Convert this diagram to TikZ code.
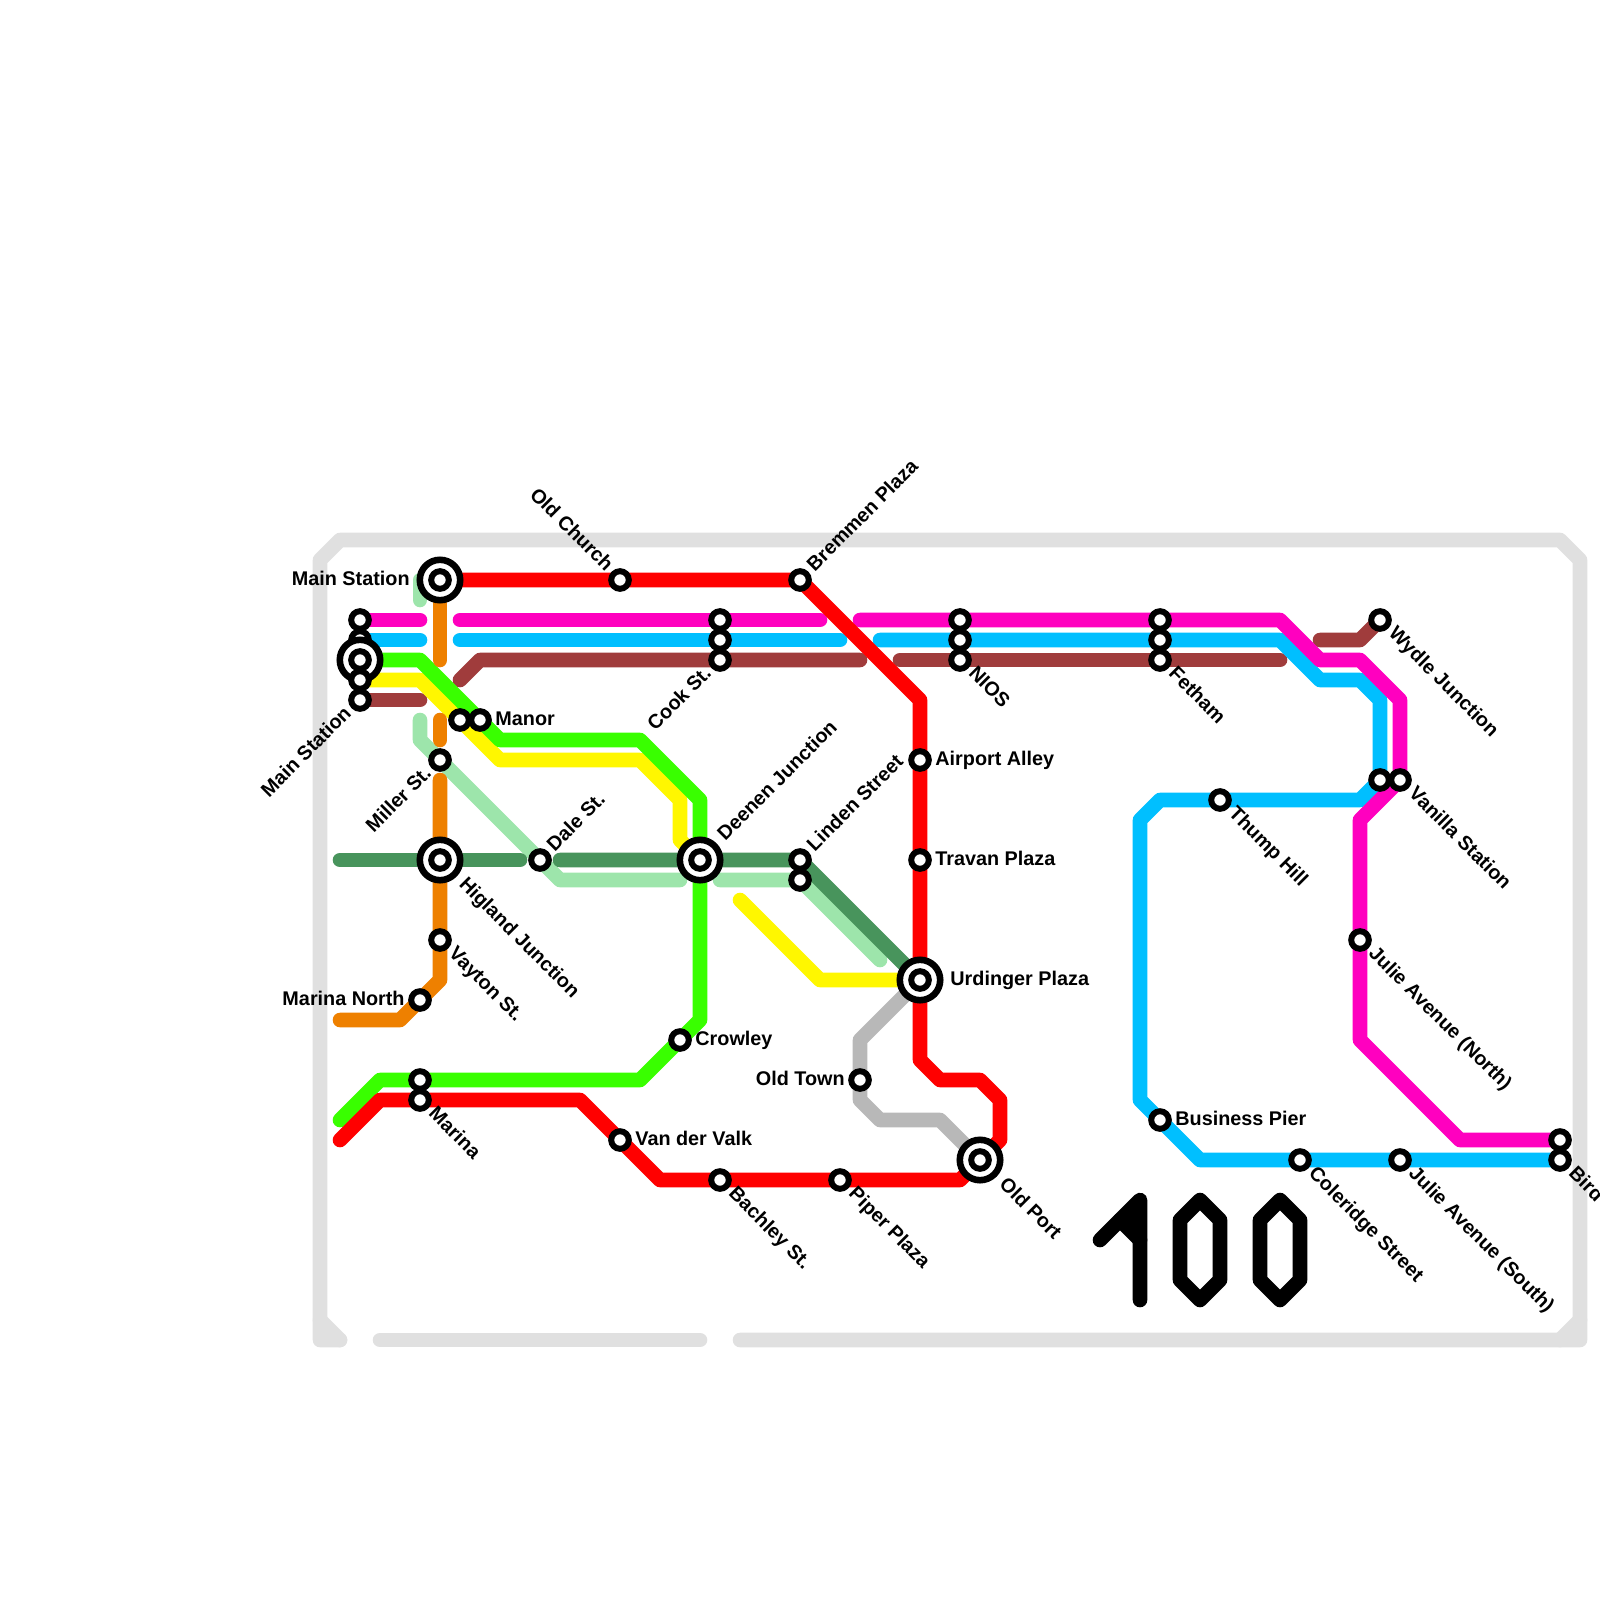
\documentclass[tikz,border=0pt]{standalone}
\usepackage{fontspec}
\setmainfont{Liberation Sans}
\usetikzlibrary{backgrounds}
\definecolor{frameGrey}{RGB}{224,224,224}
\definecolor{lineRed}{RGB}{255,0,0}
\definecolor{lineMagenta}{RGB}{255,0,191}
\definecolor{lineCyan}{RGB}{0,191,255}
\definecolor{lineBrown}{RGB}{160,60,60}
\definecolor{lineGreen}{RGB}{57,255,0}
\definecolor{lineYellow}{RGB}{255,247,0}
\definecolor{lineOrange}{RGB}{238,128,0}
\definecolor{linePale}{RGB}{157,229,171}
\definecolor{lineForest}{RGB}{72,148,92}
\definecolor{lineGrey}{RGB}{184,184,184}

\begin{document}
\begin{tikzpicture}[
  x=0.5pt, y=-0.5pt,
  track/.style={line width=7.3pt, line cap=round, line join=round},
  stn/.style={circle, draw=black, fill=white, line width=3pt, minimum size=8.8pt, inner sep=0pt, outer sep=0pt},
  hub/.style={circle, draw=black, fill=white, line width=3.3pt, minimum size=20.2pt, inner sep=0pt, outer sep=0pt},
  lbl/.style={font=\fontsize{9.9}{11}\selectfont\bfseries, inner sep=0pt, text height=7pt, text depth=2pt},
  lblE/.style={lbl, anchor=west, xshift=7.5pt},
  lblW/.style={lbl, anchor=east, xshift=-7.5pt},
  lblSE/.style={lbl, anchor=west, xshift=5.5pt, yshift=-5.5pt, rotate=-45},
  lblNE/.style={lbl, anchor=west, xshift=5.5pt, yshift=5.5pt, rotate=45},
  lblNW/.style={lbl, anchor=east, xshift=-5.5pt, yshift=5.5pt, rotate=-45},
  lblSW/.style={lbl, anchor=east, xshift=-5.5pt, yshift=-5.5pt, rotate=45}
]
\useasboundingbox (0,0) rectangle (1600,1600);
% stations, left stack first
\node[stn] (stackB) at (360,640) {};
\node[hub] (stackHub) at (360,660) {};
\node[stn] (stackC) at (360,660) {};
\node[stn] (stackA) at (360,620) {};
\node[stn] (stackD) at (360,680) {};
\node[stn] (stackE) at (360,700) {};
\node[hub] (mainHub) at (440,580) {};
\node[stn] (mainStn) at (440,580) {};
\node[stn] (oldChurch) at (620,580) {};
\node[stn] (bremmen) at (800,580) {};
\node[stn] (cookA) at (720,620) {};
\node[stn] (cookB) at (720,640) {};
\node[stn] (cookC) at (720,660) {};
\node[stn] (niosA) at (960,620) {};
\node[stn] (niosB) at (960,640) {};
\node[stn] (niosC) at (960,660) {};
\node[stn] (fethamA) at (1160,620) {};
\node[stn] (fethamB) at (1160,640) {};
\node[stn] (fethamC) at (1160,660) {};
\node[stn] (manorA) at (460,720) {};
\node[stn] (manorB) at (480,720) {};
\node[stn] (miller) at (440,760) {};
\node[hub] (higlandHub) at (440,860) {};
\node[stn] (higland) at (440,860) {};
\node[stn] (dale) at (540,860) {};
\node[hub] (deenenHub) at (700,860) {};
\node[stn] (deenen) at (700,860) {};
\node[stn] (lindenB) at (800,880) {};
\node[stn] (lindenA) at (800,860) {};
\node[stn] (airport) at (920,760) {};
\node[stn] (travan) at (920,860) {};
\node[hub] (urdingerHub) at (920,980) {};
\node[stn] (urdinger) at (920,980) {};
\node[stn] (vayton) at (440,940) {};
\node[stn] (marinaNorth) at (420,1000) {};
\node[stn] (crowley) at (680,1040) {};
\node[stn] (oldTown) at (860,1080) {};
\node[stn] (marinaA) at (420,1080) {};
\node[stn] (marinaB) at (420,1100) {};
\node[stn] (valk) at (620,1140) {};
\node[stn] (bachley) at (720,1180) {};
\node[stn] (piper) at (840,1180) {};
\node[hub] (oldPortHub) at (980,1160) {};
\node[stn] (oldPort) at (980,1160) {};
\node[stn] (wydle) at (1380,620) {};
\node[stn] (vanillaA) at (1380,780) {};
\node[stn] (vanillaB) at (1400,780) {};
\node[stn] (thump) at (1220,800) {};
\node[stn] (julieN) at (1360,940) {};
\node[stn] (pier) at (1160,1120) {};
\node[stn] (coleridge) at (1300,1160) {};
\node[stn] (julieS) at (1400,1160) {};
\node[stn] (birdA) at (1560,1140) {};
\node[stn] (birdB) at (1560,1160) {};
% labels
\node[lblW, xshift=-7.5pt] (mainL) at (mainHub) {Main Station};
\node[lblSW] (stackL) at (stackE) {Main Station};
\node[lblSW] (millerL) at (miller) {Miller St.};
\node[lblSW] (cookL) at (cookC) {Cook St.};
\node[lblNW] (oldChurchL) at (oldChurch) {Old Church};
\node[lblNE] (bremmenL) at (bremmen) {Bremmen Plaza};
\node[lblE] (manorL) at (manorB) {Manor};
\node[lblNE] (daleL) at (dale) {Dale St.};
\node[lblNE, xshift=7.5pt] (deenenL) at (deenen) {Deenen Junction};
\node[lblNE] (lindenL) at (lindenA) {Linden Street};
\node[lblE] (airportL) at (airport) {Airport Alley};
\node[lblE] (travanL) at (travan) {Travan Plaza};
\node[lblE, xshift=7.5pt] (urdingerL) at (urdinger) {Urdinger Plaza};
\node[lblSE, xshift=7.5pt] (higlandL) at (higland) {Higland Junction};
\node[lblSE] (vaytonL) at (vayton) {Vayton St.};
\node[lblW] (marinaNorthL) at (marinaNorth) {Marina North};
\node[lblE] (crowleyL) at (crowley) {Crowley};
\node[lblW] (oldTownL) at (oldTown) {Old Town};
\node[lblSE] (marinaL) at (marinaB) {Marina};
\node[lblE] (valkL) at (valk) {Van der Valk};
\node[lblSE] (bachleyL) at (bachley) {Bachley St.};
\node[lblSE] (piperL) at (piper) {Piper Plaza};
\node[lblSE, xshift=7.5pt] (oldPortL) at (oldPort) {Old Port};
\node[lblSE] (niosL) at (niosC) {NIOS};
\node[lblSE] (fethamL) at (fethamC) {Fetham};
\node[lblSE] (wydleL) at (wydle) {Wydle Junction};
\node[lblSE] (vanillaL) at (vanillaB) {Vanilla Station};
\node[lblSE] (thumpL) at (thump) {Thump Hill};
\node[lblSE] (julieNL) at (julieN) {Julie Avenue (North)};
\node[lblE] (pierL) at (pier) {Business Pier};
\node[lblSE] (coleridgeL) at (coleridge) {Coleridge Street};
\node[lblSE] (julieSL) at (julieS) {Julie Avenue (South)};
\node[lblSE] (birdL) at (birdB) {Bird};
% the 100
\draw[track, black] (1100,1240) -- (1140,1200) -- (1140,1300);
\draw[track, black] (1120,1220) -- (1140,1240);
\fill[black] (1120,1220) -- (1140,1200) -- (1140,1240) -- cycle;
\draw[track, black] (1200,1200) -- (1220,1220) -- (1220,1280) -- (1200,1300) -- (1180,1280) -- (1180,1220) -- cycle;
\draw[track, black] (1280,1200) -- (1300,1220) -- (1300,1280) -- (1280,1300) -- (1260,1280) -- (1260,1220) -- cycle;
\begin{pgfonlayer}{background}
  % frame
  \draw[track, frameGrey] (340,1340) -- (320,1340) -- (320,560) -- (340,540) -- (1560,540) -- (1580,560) -- (1580,1340) -- (740,1340);
  \draw[track, frameGrey] (380,1340) -- (700,1340);
  \fill[frameGrey] (320,1320) -- (340,1340) -- (320,1340) -- cycle;
  \draw[track, frameGrey] (320,1320) -- (340,1340);
  \fill[frameGrey] (1580,1320) -- (1560,1340) -- (1580,1340) -- cycle;
  \draw[track, frameGrey] (1580,1320) -- (1560,1340);
  % lines
  \draw[track, lineGrey] (urdinger.center) -- (860,1040) -- (oldTown.center) -- (860,1100) -- (880,1120) -- (940,1120) -- (oldPort.center);
  \draw[track, linePale] (mainStn.center) -- (420,580) -- (420,600);
  \draw[track, linePale] (420,720) -- (420,740) -- (dale.center) -- (560,880) -- (680,880);
  \draw[track, linePale] (720,880) -- (lindenB.center) -- (880,960);
  \draw[track, lineForest] (340,860) -- (higland.center) -- (520,860);
  \draw[track, lineForest] (560,860) -- (deenen.center) -- (lindenA.center) -- (urdinger.center);
  \draw[track, lineBrown] (stackE.center) -- (420,700);
  \draw[track, lineBrown] (460,680) -- (480,660) -- (cookC.center) -- (860,660);
  \draw[track, lineBrown] (900,660) -- (niosC.center) -- (fethamC.center) -- (1280,660);
  \draw[track, lineBrown] (1320,640) -- (1360,640) -- (wydle.center);
  \draw[track, lineYellow] (stackD.center) -- (420,680) -- (manorA.center) -- (500,760) -- (640,760) -- (680,800) -- (680,840) -- (deenen.center);
  \draw[track, lineYellow] (740,900) -- (820,980) -- (urdinger.center);
  \draw[track, lineGreen] (stackC.center) -- (420,660) -- (manorB.center) -- (500,740) -- (640,740) -- (700,800) -- (deenen.center) -- (700,1020) -- (crowley.center) -- (640,1080) -- (marinaA.center) -- (380,1080) -- (340,1120);
  \draw[track, lineOrange] (mainStn.center) -- (440,660);
  \draw[track, lineOrange] (440,720) -- (440,740);
  \draw[track, lineOrange] (440,780) -- (higland.center) -- (vayton.center) -- (440,980) -- (marinaNorth.center) -- (400,1020) -- (340,1020);
  \draw[track, lineCyan] (stackB.center) -- (420,640);
  \draw[track, lineCyan] (460,640) -- (cookB.center) -- (840,640);
  \draw[track, lineCyan] (880,640) -- (niosB.center) -- (fethamB.center) -- (1280,640) -- (1320,680) -- (1360,680) -- (1380,700) -- (vanillaA.center) -- (1360,800) -- (thump.center) -- (1160,800) -- (1140,820) -- (1140,1100) -- (pier.center) -- (1200,1160) -- (coleridge.center) -- (julieS.center) -- (birdB.center);
  \draw[track, lineMagenta] (stackA.center) -- (420,620);
  \draw[track, lineMagenta] (460,620) -- (cookA.center) -- (820,620);
  \draw[track, lineMagenta] (860,620) -- (niosA.center) -- (fethamA.center) -- (1280,620) -- (1320,660) -- (1360,660) -- (1400,700) -- (vanillaB.center) -- (1360,820) -- (julieN.center) -- (1360,1040) -- (1460,1140) -- (birdA.center);
  \draw[track, lineRed] (mainStn.center) -- (oldChurch.center) -- (bremmen.center) -- (920,700) -- (airport.center) -- (travan.center) -- (urdinger.center) -- (920,1060) -- (940,1080) -- (980,1080) -- (1000,1100) -- (1000,1140) -- (oldPort.center) -- (960,1180) -- (piper.center) -- (bachley.center) -- (660,1180) -- (valk.center) -- (580,1100) -- (marinaB.center) -- (380,1100) -- (340,1140);
\end{pgfonlayer}
\end{tikzpicture}
\end{document}
